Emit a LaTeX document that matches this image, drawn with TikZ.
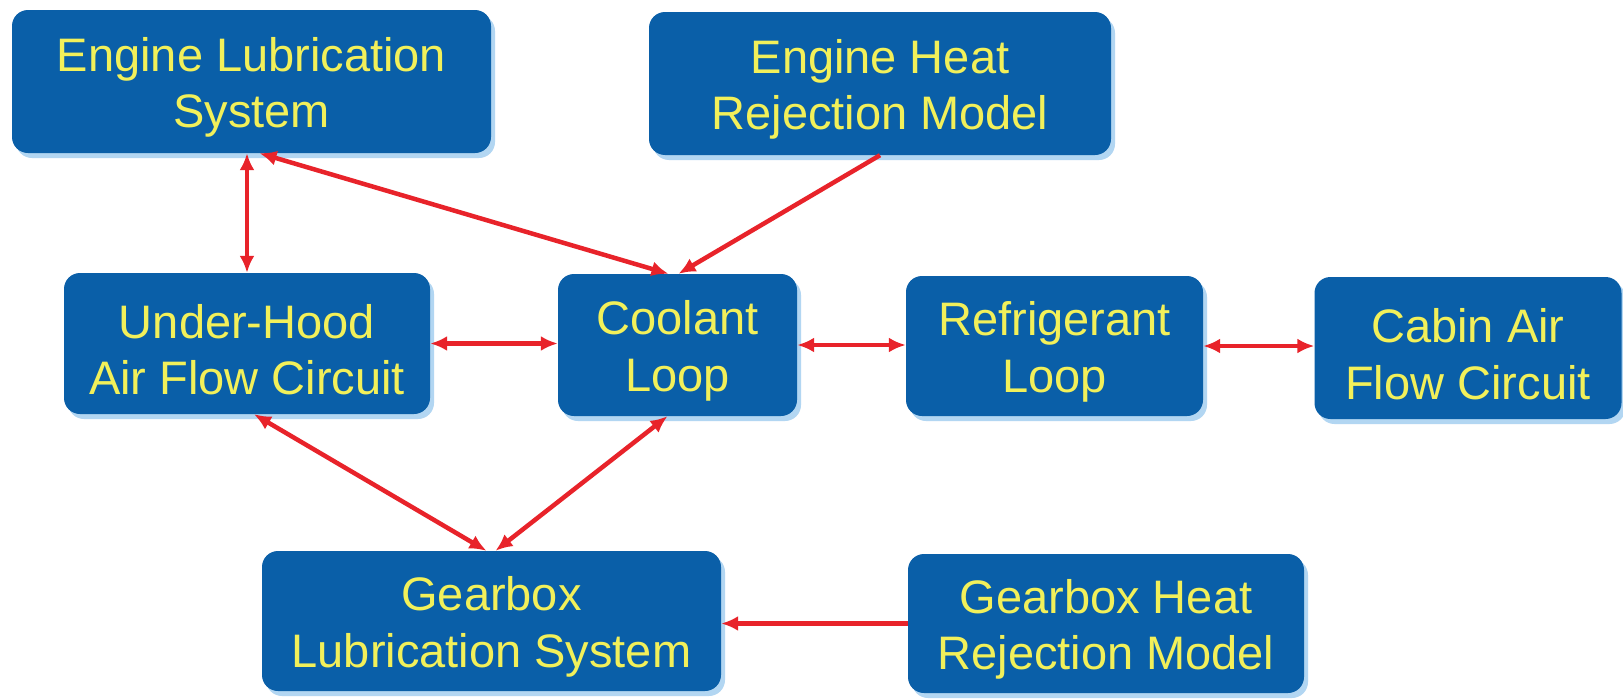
\documentclass[tikz,border=0pt]{standalone}
\usepackage{fontspec}
\setmainfont{Liberation Sans}
\usetikzlibrary{arrows.meta,shadows}
\definecolor{boxblue}{HTML}{0A5FA8}
\definecolor{txtyellow}{HTML}{F2F05A}
\definecolor{arrred}{HTML}{E8232A}
\definecolor{shadowblue}{HTML}{B2D6F2}
\newcommand{\blkbox}[5]{%
  \node[blk, minimum width=#3, minimum height=#4] (#1) at (#2) {};
  \node[txt] (#1-t) at ([yshift=-6pt]#1.center) {#5};}
\begin{document}
\begin{tikzpicture}[x=1pt,y=-1pt,
  blk/.style={fill=boxblue, draw=none, rounded corners=16pt, inner sep=0pt,
    general shadow={shadow xshift=4pt, shadow yshift=-5pt, fill=shadowblue, draw=none}},
  txt/.style={text=txtyellow, align=center, font=\fontsize{47}{56.5}\selectfont, inner sep=0pt},
  tip/.style={},
  arr/.style={draw=arrred, line width=4.5pt, -{Latex[length=17pt,width=15pt]}},
  darr/.style={draw=arrred, line width=4.5pt, {Latex[length=17pt,width=15pt]}-{Latex[length=17pt,width=15pt]}}]
\fill[white] (0,0) rectangle (1623,699);
\useasboundingbox (0,0) rectangle (1623,699);
\blkbox{els}{251.5,81.5}{479pt}{143pt}{Engine Lubrication\\System}
\blkbox{ehr}{880,83.5}{462pt}{143pt}{Engine Heat\\Rejection Model}
\blkbox{uh}{247,343.5}{366pt}{141pt}{Under-Hood\\Air Flow Circuit}
\blkbox{cl}{677.5,345}{239pt}{142pt}{Coolant\\Loop}
\blkbox{rl}{1054.5,346}{297pt}{140pt}{Refrigerant\\Loop}
\blkbox{ca}{1468,348}{307pt}{142pt}{Cabin Air\\Flow Circuit}
\blkbox{gl}{491.5,621}{459pt}{140pt}{Gearbox\\Lubrication System}
\blkbox{gh}{1106,623.5}{396pt}{139pt}{Gearbox Heat\\Rejection Model}
\draw[darr] (uh.north |- els.south) -- (uh.north);
\draw[darr] ([xshift=8pt]els.south) -- ([xshift=-9pt]cl.north);
\draw[arr] (ehr.south) -- ([xshift=1pt]cl.north);
\draw[darr] (uh.east) -- (uh.east -| cl.west);
\draw[darr] (cl.east) -- (cl.east -| rl.west);
\draw[darr] (rl.east) -- (rl.east -| ca.west);
\draw[darr] ([xshift=7pt]uh.south) -- ([xshift=-5pt]gl.north);
\draw[darr] ([xshift=-10pt]cl.south) -- ([xshift=4pt]gl.north);
\draw[arr] (gh.west) -- (gh.west -| gl.east);
\end{tikzpicture}
\end{document}
